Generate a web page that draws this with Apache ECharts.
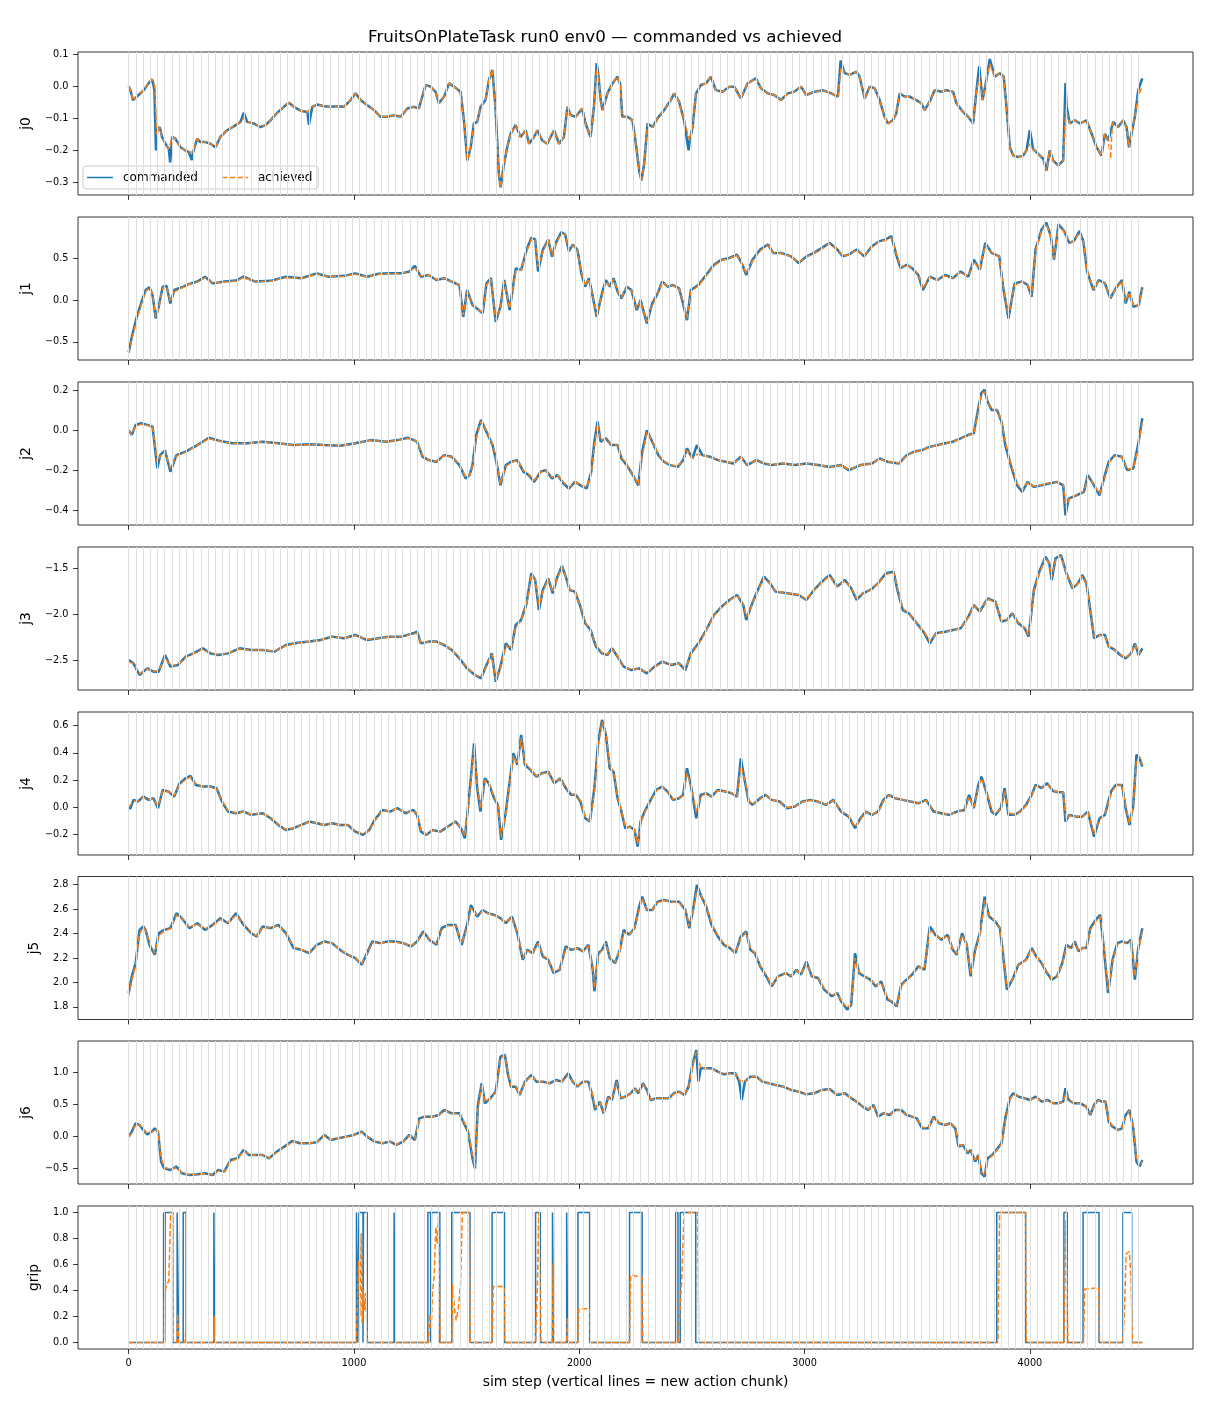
<!DOCTYPE html>
<html><head><meta charset="utf-8">
<script src="https://cdn.jsdelivr.net/npm/echarts@6/dist/echarts.min.js"></script>
<style>html,body{margin:0;padding:0;background:#fff}#c{width:1210px;height:1408px}</style>
</head><body><div id="c"></div>
<script>
const chunkStarts = [0,32,64,96,128,160,192,224,256,288,320,352,384,416,448,480,512,544,576,608,640,672,704,736,768,800,832,864,896,928,960,992,1024,1056,1088,1120,1152,1184,1216,1248,1280,1312,1344,1376,1408,1440,1472,1504,1536,1568,1600,1632,1664,1696,1728,1760,1792,1824,1856,1888,1920,1952,1984,2016,2048,2080,2112,2144,2176,2208,2240,2272,2304,2336,2368,2400,2432,2464,2496,2528,2560,2592,2624,2656,2688,2720,2752,2784,2816,2848,2880,2912,2944,2976,3008,3040,3072,3104,3136,3168,3200,3232,3264,3296,3328,3360,3392,3424,3456,3488,3520,3552,3584,3616,3648,3680,3712,3744,3776,3808,3840,3872,3904,3936,3968,4000,4032,4064,4096,4128,4160,4192,4224,4256,4288,4320,4352,4384,4416,4448,4480];
const xTicks = [0,1000,2000,3000,4000];
const panelNames = ['j0','j1','j2','j3','j4','j5','j6','grip'];
const yTicks = [[-0.3,-0.2,-0.1,0,0.1],[-0.5,0,0.5],[-0.4,-0.2,0,0.2],[-2.5,-2.0,-1.5],[-0.2,0,0.2,0.4,0.6],[1.8,2.0,2.2,2.4,2.6,2.8],[-0.5,0,0.5,1.0],[0,0.2,0.4,0.6,0.8,1.0]];
const yRanges = [[-0.339,0.107],[-0.718,0.995],[-0.4735,0.2415],[-2.826,-1.272],[-0.351,0.70],[1.697,2.867],[-0.745,1.489],[-0.05,1.05]];

const j0Cmd = [[0,0.0],[7,-0.01],[19,-0.043],[27,-0.048],[44,-0.027],[67,-0.012],[89,0.01],[104,0.022],[108,0.028],[114,-0.01],[121,-0.2],[126,-0.137],[138,-0.127],[148,-0.158],[163,-0.179],[178,-0.195],[184,-0.237],[193,-0.158],[207,-0.163],[230,-0.19],[252,-0.2],[267,-0.205],[280,-0.23],[286,-0.205],[304,-0.163],[318,-0.174],[341,-0.174],[363,-0.179],[385,-0.19],[407,-0.158],[437,-0.137],[467,-0.125],[496,-0.111],[511,-0.082],[526,-0.111],[555,-0.116],[585,-0.127],[607,-0.121],[629,-0.106],[659,-0.083],[689,-0.064],[711,-0.051],[733,-0.064],[763,-0.076],[793,-0.08],[800,-0.12],[815,-0.064],[837,-0.057],[866,-0.062],[896,-0.064],[926,-0.062],[955,-0.064],[985,-0.043],[1007,-0.022],[1029,-0.043],[1059,-0.059],[1089,-0.074],[1118,-0.095],[1148,-0.095],[1178,-0.09],[1207,-0.095],[1237,-0.069],[1266,-0.064],[1288,-0.069],[1318,0.004],[1340,-0.001],[1362,-0.017],[1377,-0.053],[1400,-0.032],[1422,0.009],[1444,-0.001],[1473,-0.017],[1488,-0.106],[1503,-0.231],[1518,-0.19],[1532,-0.116],[1547,-0.111],[1562,-0.064],[1584,-0.043],[1599,0.02],[1614,0.051],[1628,-0.064],[1643,-0.273],[1651,-0.315],[1666,-0.242],[1680,-0.19],[1695,-0.148],[1717,-0.121],[1740,-0.158],[1762,-0.137],[1777,-0.179],[1799,-0.158],[1814,-0.137],[1836,-0.169],[1858,-0.179],[1888,-0.137],[1910,-0.179],[1932,-0.158],[1947,-0.064],[1962,-0.09],[1984,-0.095],[2013,-0.069],[2028,-0.116],[2050,-0.158],[2065,-0.064],[2077,0.072],[2084,0.04],[2095,-0.043],[2103,-0.074],[2125,-0.022],[2147,0.009],[2169,0.03],[2181,0.009],[2191,-0.095],[2214,-0.095],[2236,-0.106],[2251,-0.179],[2266,-0.263],[2276,-0.294],[2288,-0.242],[2303,-0.116],[2325,-0.127],[2347,-0.1],[2377,-0.074],[2406,-0.043],[2421,-0.022],[2443,-0.048],[2465,-0.106],[2485,-0.2],[2490,-0.169],[2503,-0.127],[2518,-0.022],[2540,0.004],[2562,0.009],[2584,0.03],[2606,-0.012],[2636,-0.017],[2666,-0.001],[2688,-0.001],[2717,-0.038],[2747,0.009],[2784,0.025],[2806,-0.006],[2836,-0.022],[2865,-0.027],[2895,-0.043],[2925,-0.022],[2954,-0.017],[2984,-0.001],[3007,-0.027],[3044,-0.017],[3081,-0.012],[3118,-0.022],[3148,-0.032],[3160,0.08],[3178,0.041],[3200,0.036],[3230,0.046],[3244,0.03],[3267,-0.038],[3289,-0.001],[3311,-0.006],[3333,-0.043],[3355,-0.095],[3370,-0.116],[3392,-0.106],[3407,-0.085],[3422,-0.022],[3444,-0.032],[3466,-0.032],[3496,-0.043],[3518,-0.053],[3533,-0.074],[3555,-0.048],[3577,-0.012],[3607,-0.017],[3629,-0.012],[3659,-0.017],[3674,-0.053],[3703,-0.08],[3726,-0.095],[3748,-0.116],[3763,-0.012],[3775,0.062],[3790,-0.043],[3807,0.02],[3822,0.085],[3844,0.03],[3866,0.041],[3884,0.03],[3896,-0.064],[3911,-0.19],[3926,-0.216],[3948,-0.221],[3970,-0.216],[3985,-0.2],[4000,-0.137],[4014,-0.195],[4037,-0.211],[4059,-0.226],[4074,-0.263],[4088,-0.2],[4103,-0.231],[4126,-0.247],[4148,-0.231],[4158,0.01],[4163,-0.064],[4177,-0.116],[4200,-0.106],[4222,-0.116],[4251,-0.106],[4274,-0.148],[4296,-0.19],[4318,-0.216],[4333,-0.148],[4348,-0.169],[4370,-0.111],[4392,-0.127],[4414,-0.106],[4429,-0.127],[4440,-0.19],[4451,-0.148],[4466,-0.095],[4481,-0.012],[4499,0.025]];
const j0Ach = [[0,0.0],[7,-0.01],[19,-0.043],[27,-0.048],[44,-0.027],[67,-0.012],[89,0.01],[104,0.022],[108,0.025],[116,0.0],[124,-0.15],[130,-0.14],[138,-0.127],[148,-0.158],[163,-0.179],[178,-0.195],[193,-0.158],[207,-0.163],[230,-0.19],[252,-0.2],[267,-0.205],[286,-0.205],[304,-0.163],[318,-0.174],[341,-0.174],[363,-0.179],[385,-0.19],[407,-0.158],[437,-0.137],[467,-0.125],[496,-0.111],[511,-0.1],[526,-0.111],[555,-0.116],[585,-0.127],[607,-0.121],[629,-0.106],[659,-0.083],[689,-0.064],[711,-0.051],[733,-0.064],[763,-0.076],[793,-0.08],[815,-0.064],[837,-0.057],[866,-0.062],[896,-0.064],[926,-0.062],[955,-0.064],[985,-0.043],[1007,-0.022],[1029,-0.043],[1059,-0.059],[1089,-0.074],[1118,-0.095],[1148,-0.095],[1178,-0.09],[1207,-0.095],[1237,-0.069],[1266,-0.064],[1288,-0.069],[1318,0.004],[1340,-0.001],[1362,-0.017],[1377,-0.053],[1400,-0.032],[1422,0.009],[1444,-0.001],[1473,-0.017],[1488,-0.106],[1503,-0.231],[1518,-0.19],[1532,-0.116],[1547,-0.111],[1562,-0.064],[1584,-0.043],[1599,0.02],[1614,0.051],[1628,-0.064],[1643,-0.273],[1651,-0.315],[1666,-0.242],[1680,-0.19],[1695,-0.148],[1717,-0.121],[1740,-0.158],[1762,-0.137],[1777,-0.179],[1799,-0.158],[1814,-0.137],[1836,-0.169],[1858,-0.179],[1888,-0.137],[1910,-0.179],[1932,-0.158],[1947,-0.064],[1962,-0.09],[1984,-0.095],[2013,-0.069],[2028,-0.116],[2050,-0.158],[2065,-0.064],[2077,0.055],[2084,0.04],[2095,-0.043],[2103,-0.074],[2125,-0.022],[2147,0.009],[2169,0.03],[2181,0.009],[2191,-0.095],[2214,-0.095],[2236,-0.106],[2251,-0.179],[2266,-0.263],[2276,-0.294],[2288,-0.242],[2303,-0.116],[2325,-0.127],[2347,-0.1],[2377,-0.074],[2406,-0.043],[2421,-0.022],[2443,-0.048],[2465,-0.106],[2490,-0.169],[2503,-0.127],[2518,-0.022],[2540,0.004],[2562,0.009],[2584,0.03],[2606,-0.012],[2636,-0.017],[2666,-0.001],[2688,-0.001],[2717,-0.038],[2747,0.009],[2784,0.025],[2806,-0.006],[2836,-0.022],[2865,-0.027],[2895,-0.043],[2925,-0.022],[2954,-0.017],[2984,-0.001],[3007,-0.027],[3044,-0.017],[3081,-0.012],[3118,-0.022],[3148,-0.032],[3162,0.06],[3178,0.041],[3200,0.036],[3230,0.046],[3244,0.03],[3267,-0.038],[3289,-0.001],[3311,-0.006],[3333,-0.043],[3355,-0.095],[3370,-0.116],[3392,-0.106],[3407,-0.085],[3422,-0.022],[3444,-0.032],[3466,-0.032],[3496,-0.043],[3518,-0.053],[3533,-0.074],[3555,-0.048],[3577,-0.012],[3607,-0.017],[3629,-0.012],[3659,-0.017],[3674,-0.053],[3703,-0.08],[3726,-0.095],[3748,-0.116],[3763,-0.012],[3777,0.03],[3790,-0.043],[3807,0.02],[3822,0.07],[3844,0.03],[3866,0.041],[3884,0.03],[3896,-0.064],[3911,-0.19],[3926,-0.216],[3948,-0.221],[3970,-0.216],[3985,-0.2],[4000,-0.18],[4014,-0.195],[4037,-0.211],[4059,-0.226],[4074,-0.263],[4088,-0.2],[4103,-0.231],[4126,-0.247],[4148,-0.231],[4160,-0.06],[4166,-0.09],[4177,-0.116],[4200,-0.106],[4222,-0.116],[4251,-0.106],[4274,-0.148],[4296,-0.19],[4318,-0.216],[4333,-0.148],[4348,-0.169],[4358,-0.226],[4366,-0.12],[4370,-0.111],[4392,-0.127],[4414,-0.106],[4429,-0.127],[4440,-0.19],[4451,-0.148],[4466,-0.095],[4481,-0.03],[4499,0.0]];

const j1Cmd = [[0,-0.625],[14,-0.44],[34,-0.22],[55,-0.04],[75,0.12],[92,0.153],[106,0.06],[120,-0.22],[133,-0.08],[151,0.16],[168,0.17],[185,-0.04],[202,0.12],[236,0.153],[270,0.194],[305,0.222],[339,0.28],[373,0.2],[424,0.222],[476,0.234],[510,0.28],[561,0.222],[630,0.23],[698,0.28],[767,0.262],[835,0.32],[886,0.28],[955,0.29],[1006,0.32],[1058,0.28],[1109,0.315],[1160,0.32],[1211,0.32],[1246,0.343],[1270,0.41],[1297,0.28],[1331,0.3],[1366,0.24],[1400,0.262],[1434,0.222],[1468,0.18],[1485,-0.2],[1502,0.12],[1526,-0.06],[1554,-0.12],[1571,-0.16],[1588,0.2],[1608,0.262],[1629,-0.26],[1650,-0.08],[1667,0.24],[1691,-0.12],[1708,0.2],[1718,0.38],[1742,0.36],[1766,0.6],[1787,0.746],[1804,0.726],[1817,0.343],[1838,0.6],[1862,0.726],[1879,0.52],[1896,0.685],[1920,0.815],[1937,0.786],[1954,0.585],[1971,0.665],[1992,0.6],[2009,0.32],[2026,0.16],[2043,0.262],[2060,0.04],[2077,-0.2],[2101,0.08],[2118,0.24],[2135,0.16],[2152,0.262],[2170,0.1],[2187,0.02],[2211,0.16],[2231,0.12],[2255,-0.12],[2272,0.0],[2300,-0.28],[2324,-0.04],[2348,0.08],[2368,0.222],[2392,0.16],[2416,0.18],[2443,0.14],[2464,-0.08],[2478,-0.24],[2495,0.12],[2529,0.18],[2563,0.3],[2598,0.423],[2632,0.484],[2666,0.504],[2700,0.544],[2724,0.423],[2741,0.3],[2769,0.484],[2803,0.605],[2837,0.665],[2861,0.565],[2895,0.565],[2940,0.524],[2974,0.444],[3008,0.524],[3042,0.565],[3077,0.625],[3111,0.685],[3145,0.605],[3169,0.524],[3196,0.544],[3231,0.605],[3265,0.524],[3299,0.645],[3333,0.706],[3361,0.726],[3385,0.766],[3409,0.524],[3426,0.383],[3453,0.423],[3477,0.383],[3505,0.3],[3525,0.12],[3556,0.28],[3590,0.24],[3624,0.3],[3658,0.262],[3693,0.343],[3727,0.28],[3751,0.484],[3778,0.363],[3802,0.685],[3830,0.565],[3864,0.524],[3881,0.16],[3905,-0.22],[3932,0.2],[3966,0.222],[3990,0.18],[4008,0.04],[4025,0.605],[4052,0.847],[4073,0.927],[4093,0.766],[4107,0.484],[4127,0.907],[4152,0.827],[4175,0.685],[4195,0.706],[4220,0.827],[4237,0.706],[4254,0.343],[4282,0.12],[4306,0.24],[4333,0.2],[4357,0.02],[4381,0.14],[4409,0.24],[4425,-0.04],[4442,0.1],[4459,-0.08],[4483,-0.06],[4499,0.153]];
const j1Ach = [[0,-0.64],[14,-0.47],[34,-0.25],[55,-0.06],[75,0.1],[92,0.145],[106,0.07],[120,-0.2],[133,-0.1],[151,0.14],[168,0.165],[185,-0.02],[202,0.1],[236,0.145],[270,0.19],[305,0.215],[339,0.27],[373,0.205],[424,0.215],[476,0.228],[510,0.27],[561,0.222],[630,0.225],[698,0.27],[767,0.262],[835,0.31],[886,0.28],[955,0.285],[1006,0.31],[1058,0.28],[1109,0.31],[1160,0.315],[1211,0.32],[1246,0.34],[1270,0.39],[1297,0.29],[1331,0.3],[1366,0.245],[1400,0.26],[1434,0.225],[1468,0.18],[1485,-0.18],[1502,0.1],[1526,-0.05],[1554,-0.12],[1571,-0.15],[1588,0.18],[1608,0.25],[1629,-0.24],[1650,-0.09],[1667,0.22],[1691,-0.1],[1708,0.18],[1718,0.36],[1742,0.36],[1766,0.58],[1787,0.73],[1804,0.72],[1817,0.4],[1838,0.58],[1862,0.72],[1879,0.54],[1896,0.67],[1920,0.8],[1937,0.78],[1954,0.6],[1971,0.66],[1992,0.6],[2009,0.34],[2026,0.17],[2043,0.25],[2060,0.05],[2077,-0.18],[2101,0.06],[2118,0.22],[2135,0.17],[2152,0.25],[2170,0.11],[2187,0.03],[2211,0.15],[2231,0.12],[2255,-0.1],[2272,-0.01],[2300,-0.26],[2324,-0.06],[2348,0.07],[2368,0.21],[2392,0.165],[2416,0.175],[2443,0.14],[2464,-0.06],[2478,-0.22],[2495,0.1],[2529,0.17],[2563,0.29],[2598,0.41],[2632,0.475],[2666,0.5],[2700,0.535],[2724,0.43],[2741,0.32],[2769,0.47],[2803,0.59],[2837,0.655],[2861,0.57],[2895,0.56],[2940,0.52],[2974,0.45],[3008,0.515],[3042,0.56],[3077,0.615],[3111,0.675],[3145,0.61],[3169,0.53],[3196,0.54],[3231,0.6],[3265,0.53],[3299,0.635],[3333,0.7],[3361,0.72],[3385,0.75],[3409,0.54],[3426,0.4],[3453,0.42],[3477,0.385],[3505,0.31],[3525,0.14],[3556,0.27],[3590,0.24],[3624,0.29],[3658,0.265],[3693,0.335],[3727,0.285],[3751,0.46],[3778,0.37],[3802,0.66],[3830,0.57],[3864,0.52],[3881,0.18],[3905,-0.2],[3932,0.18],[3966,0.22],[3990,0.18],[4008,0.06],[4025,0.58],[4052,0.83],[4073,0.91],[4093,0.77],[4107,0.5],[4127,0.89],[4152,0.82],[4175,0.69],[4195,0.7],[4220,0.81],[4237,0.71],[4254,0.36],[4282,0.13],[4306,0.23],[4333,0.2],[4357,0.03],[4381,0.13],[4409,0.23],[4425,-0.02],[4442,0.09],[4459,-0.07],[4483,-0.06],[4499,0.13]];

const j2Cmd = [[0,0.0],[14,-0.023],[31,0.027],[55,0.035],[82,0.027],[106,0.018],[127,-0.19],[140,-0.124],[161,-0.1],[185,-0.207],[212,-0.124],[253,-0.107],[305,-0.074],[356,-0.037],[407,-0.054],[459,-0.065],[527,-0.065],[595,-0.057],[664,-0.065],[732,-0.074],[801,-0.07],[869,-0.074],[938,-0.077],[1006,-0.065],[1074,-0.049],[1143,-0.057],[1194,-0.049],[1239,-0.037],[1280,-0.057],[1304,-0.132],[1331,-0.149],[1366,-0.157],[1400,-0.124],[1434,-0.132],[1468,-0.174],[1496,-0.241],[1513,-0.224],[1526,-0.174],[1543,-0.023],[1564,0.052],[1588,-0.007],[1615,-0.074],[1632,-0.157],[1650,-0.275],[1674,-0.174],[1697,-0.157],[1725,-0.149],[1752,-0.207],[1776,-0.224],[1800,-0.258],[1828,-0.207],[1851,-0.199],[1879,-0.241],[1903,-0.224],[1930,-0.266],[1954,-0.291],[1981,-0.258],[2005,-0.275],[2033,-0.291],[2053,-0.207],[2067,-0.057],[2081,0.044],[2095,-0.057],[2118,-0.04],[2142,-0.074],[2170,-0.074],[2187,-0.141],[2211,-0.174],[2238,-0.224],[2262,-0.275],[2279,-0.107],[2300,0.0],[2324,-0.057],[2351,-0.124],[2375,-0.157],[2403,-0.174],[2437,-0.183],[2461,-0.149],[2478,-0.09],[2502,-0.141],[2522,-0.074],[2546,-0.124],[2580,-0.132],[2615,-0.149],[2649,-0.157],[2683,-0.166],[2717,-0.132],[2745,-0.174],[2786,-0.149],[2820,-0.166],[2854,-0.174],[2905,-0.166],[2957,-0.174],[3008,-0.166],[3060,-0.174],[3111,-0.183],[3162,-0.174],[3196,-0.199],[3248,-0.174],[3299,-0.166],[3333,-0.141],[3368,-0.157],[3419,-0.166],[3453,-0.124],[3487,-0.107],[3522,-0.099],[3556,-0.082],[3590,-0.074],[3624,-0.065],[3658,-0.057],[3693,-0.04],[3727,-0.023],[3751,-0.015],[3771,0.11],[3785,0.186],[3799,0.203],[3812,0.144],[3830,0.102],[3854,0.102],[3874,0.044],[3891,-0.074],[3915,-0.174],[3943,-0.275],[3966,-0.308],[3990,-0.258],[4018,-0.283],[4052,-0.275],[4086,-0.266],[4120,-0.258],[4148,-0.275],[4158,-0.425],[4172,-0.342],[4206,-0.325],[4240,-0.308],[4257,-0.224],[4285,-0.275],[4309,-0.325],[4333,-0.224],[4350,-0.157],[4377,-0.124],[4409,-0.132],[4432,-0.199],[4459,-0.191],[4480,-0.074],[4499,0.06]];
const j2Ach = [[0,0.0],[14,-0.02],[31,0.02],[55,0.03],[82,0.025],[106,0.018],[127,-0.16],[140,-0.13],[161,-0.105],[185,-0.19],[212,-0.13],[253,-0.11],[305,-0.075],[356,-0.042],[407,-0.055],[459,-0.066],[527,-0.066],[595,-0.058],[664,-0.066],[732,-0.074],[801,-0.072],[869,-0.075],[938,-0.077],[1006,-0.066],[1074,-0.05],[1143,-0.057],[1194,-0.05],[1239,-0.04],[1280,-0.055],[1304,-0.125],[1331,-0.148],[1366,-0.155],[1400,-0.127],[1434,-0.132],[1468,-0.17],[1496,-0.235],[1513,-0.225],[1526,-0.18],[1543,-0.04],[1564,0.045],[1588,0.0],[1615,-0.07],[1632,-0.15],[1650,-0.27],[1674,-0.18],[1697,-0.16],[1725,-0.15],[1752,-0.2],[1776,-0.22],[1800,-0.25],[1828,-0.21],[1851,-0.2],[1879,-0.235],[1903,-0.225],[1930,-0.26],[1954,-0.285],[1981,-0.26],[2005,-0.272],[2033,-0.285],[2053,-0.22],[2067,-0.08],[2081,0.03],[2095,-0.05],[2118,-0.045],[2142,-0.072],[2170,-0.075],[2187,-0.135],[2211,-0.17],[2238,-0.22],[2262,-0.27],[2279,-0.13],[2300,-0.01],[2324,-0.055],[2351,-0.12],[2375,-0.155],[2403,-0.172],[2437,-0.18],[2461,-0.15],[2478,-0.1],[2502,-0.14],[2522,-0.12],[2546,-0.125],[2580,-0.132],[2615,-0.148],[2649,-0.157],[2683,-0.165],[2717,-0.135],[2745,-0.172],[2786,-0.15],[2820,-0.165],[2854,-0.172],[2905,-0.166],[2957,-0.173],[3008,-0.166],[3060,-0.174],[3111,-0.182],[3162,-0.175],[3196,-0.195],[3248,-0.175],[3299,-0.166],[3333,-0.143],[3368,-0.156],[3419,-0.164],[3453,-0.126],[3487,-0.108],[3522,-0.1],[3556,-0.083],[3590,-0.075],[3624,-0.066],[3658,-0.058],[3693,-0.042],[3727,-0.025],[3751,-0.02],[3771,0.1],[3785,0.18],[3799,0.195],[3812,0.15],[3830,0.105],[3854,0.1],[3874,0.05],[3891,-0.06],[3915,-0.165],[3943,-0.265],[3966,-0.3],[3990,-0.262],[4018,-0.28],[4052,-0.273],[4086,-0.265],[4120,-0.26],[4148,-0.27],[4160,-0.39],[4172,-0.345],[4206,-0.323],[4240,-0.305],[4257,-0.235],[4285,-0.27],[4309,-0.318],[4333,-0.235],[4350,-0.165],[4377,-0.128],[4409,-0.132],[4432,-0.195],[4459,-0.19],[4480,-0.09],[4499,0.04]];

const j3Cmd = [[0,-2.5],[21,-2.536],[48,-2.663],[82,-2.591],[110,-2.627],[133,-2.627],[161,-2.446],[185,-2.572],[219,-2.554],[253,-2.464],[287,-2.428],[329,-2.373],[363,-2.428],[397,-2.446],[441,-2.428],[493,-2.373],[544,-2.391],[595,-2.391],[647,-2.409],[698,-2.337],[750,-2.312],[801,-2.3],[852,-2.283],[903,-2.246],[955,-2.264],[1006,-2.228],[1058,-2.283],[1109,-2.264],[1160,-2.246],[1211,-2.246],[1263,-2.21],[1280,-2.192],[1297,-2.319],[1331,-2.3],[1366,-2.3],[1400,-2.337],[1434,-2.391],[1468,-2.482],[1502,-2.591],[1537,-2.663],[1564,-2.699],[1588,-2.554],[1612,-2.428],[1629,-2.736],[1650,-2.572],[1674,-2.319],[1697,-2.391],[1718,-2.12],[1742,-2.065],[1766,-1.884],[1787,-1.558],[1804,-1.63],[1821,-1.957],[1838,-1.739],[1862,-1.612],[1882,-1.775],[1903,-1.594],[1923,-1.478],[1940,-1.594],[1957,-1.739],[1981,-1.757],[2005,-1.92],[2026,-2.101],[2050,-2.174],[2074,-2.355],[2101,-2.428],[2125,-2.446],[2145,-2.373],[2170,-2.464],[2197,-2.572],[2231,-2.609],[2266,-2.591],[2300,-2.645],[2334,-2.572],[2368,-2.518],[2409,-2.554],[2443,-2.536],[2471,-2.609],[2495,-2.428],[2529,-2.319],[2563,-2.174],[2598,-2.011],[2632,-1.92],[2666,-1.848],[2700,-1.793],[2728,-1.902],[2741,-2.065],[2762,-1.92],[2786,-1.775],[2820,-1.594],[2847,-1.667],[2871,-1.757],[2923,-1.775],[2974,-1.793],[3008,-1.848],[3042,-1.739],[3077,-1.649],[3111,-1.576],[3145,-1.703],[3179,-1.63],[3207,-1.721],[3231,-1.848],[3258,-1.775],[3292,-1.739],[3326,-1.667],[3361,-1.558],[3395,-1.54],[3412,-1.739],[3436,-1.957],[3463,-1.993],[3498,-2.101],[3532,-2.21],[3556,-2.319],[3583,-2.21],[3624,-2.192],[3658,-2.174],[3693,-2.156],[3727,-2.029],[3751,-1.902],[3778,-1.975],[3812,-1.83],[3847,-1.866],[3874,-2.083],[3898,-2.065],[3922,-1.993],[3949,-2.101],[3977,-2.156],[3994,-2.246],[4018,-1.739],[4042,-1.54],[4069,-1.377],[4086,-1.449],[4097,-1.63],[4114,-1.395],[4138,-1.359],[4162,-1.558],[4189,-1.721],[4213,-1.667],[4233,-1.576],[4251,-1.667],[4268,-1.957],[4285,-2.264],[4309,-2.228],[4333,-2.228],[4350,-2.355],[4377,-2.391],[4401,-2.446],[4425,-2.482],[4449,-2.428],[4466,-2.319],[4483,-2.446],[4499,-2.373]];
const j3Ach = [[0,-2.52],[21,-2.54],[48,-2.65],[82,-2.6],[110,-2.62],[133,-2.62],[161,-2.47],[185,-2.56],[219,-2.55],[253,-2.47],[287,-2.43],[329,-2.385],[363,-2.42],[397,-2.44],[441,-2.425],[493,-2.38],[544,-2.39],[595,-2.39],[647,-2.405],[698,-2.345],[750,-2.315],[801,-2.3],[852,-2.285],[903,-2.25],[955,-2.26],[1006,-2.235],[1058,-2.275],[1109,-2.265],[1160,-2.25],[1211,-2.245],[1263,-2.215],[1280,-2.21],[1297,-2.31],[1331,-2.3],[1366,-2.305],[1400,-2.335],[1434,-2.39],[1468,-2.475],[1502,-2.585],[1537,-2.66],[1564,-2.69],[1588,-2.565],[1612,-2.44],[1629,-2.72],[1650,-2.59],[1674,-2.34],[1697,-2.38],[1718,-2.14],[1742,-2.07],[1766,-1.9],[1787,-1.58],[1804,-1.63],[1821,-1.9],[1838,-1.76],[1862,-1.62],[1882,-1.76],[1903,-1.61],[1923,-1.49],[1940,-1.59],[1957,-1.73],[1981,-1.76],[2005,-1.91],[2026,-2.09],[2050,-2.17],[2074,-2.34],[2101,-2.42],[2125,-2.44],[2145,-2.38],[2170,-2.46],[2197,-2.565],[2231,-2.605],[2266,-2.595],[2300,-2.635],[2334,-2.575],[2368,-2.525],[2409,-2.55],[2443,-2.54],[2471,-2.6],[2495,-2.44],[2529,-2.33],[2563,-2.18],[2598,-2.02],[2632,-1.93],[2666,-1.855],[2700,-1.8],[2728,-1.89],[2741,-2.03],[2762,-1.93],[2786,-1.785],[2820,-1.61],[2847,-1.67],[2871,-1.75],[2923,-1.775],[2974,-1.79],[3008,-1.84],[3042,-1.745],[3077,-1.655],[3111,-1.59],[3145,-1.7],[3179,-1.64],[3207,-1.72],[3231,-1.83],[3258,-1.775],[3292,-1.74],[3326,-1.67],[3361,-1.57],[3395,-1.55],[3412,-1.72],[3436,-1.94],[3463,-1.99],[3498,-2.1],[3532,-2.2],[3556,-2.3],[3583,-2.215],[3624,-2.195],[3658,-2.175],[3693,-2.155],[3727,-2.035],[3751,-1.91],[3778,-1.97],[3812,-1.84],[3847,-1.87],[3874,-2.07],[3898,-2.065],[3922,-2.0],[3949,-2.095],[3977,-2.15],[3994,-2.23],[4018,-1.76],[4042,-1.56],[4069,-1.39],[4086,-1.45],[4097,-1.6],[4114,-1.41],[4138,-1.37],[4162,-1.55],[4189,-1.71],[4213,-1.67],[4233,-1.59],[4251,-1.67],[4268,-1.94],[4285,-2.25],[4309,-2.23],[4333,-2.23],[4350,-2.345],[4377,-2.39],[4401,-2.44],[4425,-2.475],[4449,-2.43],[4466,-2.33],[4483,-2.43],[4499,-2.385]];

const j4Cmd = [[0,0.005],[7,-0.012],[21,0.054],[41,0.042],[65,0.078],[89,0.054],[110,0.066],[130,-0.007],[151,0.127],[178,0.115],[202,0.078],[226,0.176],[253,0.213],[274,0.23],[298,0.164],[329,0.152],[363,0.152],[390,0.14],[414,0.042],[441,-0.032],[476,-0.044],[510,-0.032],[544,-0.056],[595,-0.044],[630,-0.081],[664,-0.13],[698,-0.167],[732,-0.154],[767,-0.13],[801,-0.105],[835,-0.118],[869,-0.13],[903,-0.118],[938,-0.13],[972,-0.13],[1006,-0.179],[1040,-0.203],[1068,-0.167],[1092,-0.093],[1126,-0.02],[1160,-0.032],[1194,-0.007],[1229,-0.044],[1263,-0.02],[1280,-0.056],[1297,-0.179],[1321,-0.203],[1349,-0.167],[1383,-0.179],[1417,-0.142],[1451,-0.105],[1475,-0.154],[1492,-0.228],[1513,0.115],[1533,0.47],[1547,0.14],[1561,-0.032],[1581,0.213],[1598,0.176],[1622,0.066],[1639,0.017],[1653,-0.24],[1674,-0.032],[1691,0.189],[1708,0.397],[1725,0.311],[1742,0.532],[1759,0.311],[1783,0.275],[1810,0.225],[1834,0.25],[1862,0.262],[1889,0.176],[1916,0.213],[1940,0.14],[1964,0.091],[1985,0.091],[2005,0.042],[2026,-0.081],[2047,-0.105],[2067,0.14],[2084,0.483],[2101,0.642],[2118,0.532],[2135,0.287],[2152,0.262],[2170,0.066],[2187,-0.032],[2204,-0.154],[2224,-0.142],[2245,-0.167],[2259,-0.289],[2272,-0.105],[2290,-0.032],[2313,0.042],[2341,0.127],[2368,0.152],[2392,0.115],[2416,0.054],[2443,0.066],[2461,0.091],[2478,0.287],[2495,0.164],[2519,-0.081],[2539,0.091],[2563,0.103],[2587,0.078],[2615,0.127],[2649,0.115],[2676,0.103],[2700,0.078],[2717,0.36],[2735,0.189],[2752,0.042],[2769,0.017],[2803,0.066],[2827,0.091],[2854,0.054],[2889,0.042],[2923,-0.007],[2957,0.005],[2991,0.042],[3025,0.054],[3060,0.042],[3094,0.017],[3128,0.054],[3162,-0.032],[3196,-0.069],[3224,-0.154],[3248,-0.081],[3272,-0.032],[3299,-0.056],[3326,-0.032],[3350,0.054],[3374,0.091],[3402,0.066],[3436,0.054],[3470,0.042],[3505,0.029],[3539,0.054],[3573,-0.032],[3607,-0.044],[3641,-0.056],[3676,-0.032],[3710,-0.02],[3730,0.091],[3751,-0.007],[3771,0.164],[3785,0.225],[3806,0.115],[3830,-0.032],[3847,-0.056],[3871,-0.007],[3888,0.14],[3905,-0.056],[3932,-0.056],[3956,-0.032],[3983,0.017],[4008,0.091],[4025,0.164],[4052,0.14],[4076,0.176],[4103,0.12],[4127,0.11],[4148,0.11],[4158,-0.105],[4175,-0.056],[4206,-0.069],[4233,-0.069],[4257,-0.032],[4285,-0.216],[4309,-0.081],[4333,-0.056],[4360,0.115],[4381,0.164],[4409,0.164],[4425,-0.007],[4442,-0.13],[4459,0.017],[4473,0.385],[4487,0.36],[4499,0.299]];
const j4Ach = [[0,0.0],[7,-0.005],[21,0.045],[41,0.045],[65,0.07],[89,0.058],[110,0.06],[130,0.01],[151,0.115],[178,0.115],[202,0.085],[226,0.165],[253,0.205],[274,0.222],[298,0.17],[329,0.152],[363,0.15],[390,0.135],[414,0.05],[441,-0.025],[476,-0.042],[510,-0.035],[544,-0.052],[595,-0.046],[630,-0.078],[664,-0.125],[698,-0.162],[732,-0.155],[767,-0.132],[801,-0.108],[835,-0.116],[869,-0.128],[903,-0.12],[938,-0.128],[972,-0.132],[1006,-0.172],[1040,-0.198],[1068,-0.172],[1092,-0.1],[1126,-0.025],[1160,-0.03],[1194,-0.01],[1229,-0.04],[1263,-0.025],[1280,-0.05],[1297,-0.17],[1321,-0.198],[1349,-0.17],[1383,-0.175],[1417,-0.145],[1451,-0.11],[1475,-0.15],[1492,-0.21],[1513,0.09],[1533,0.44],[1547,0.17],[1561,-0.01],[1581,0.2],[1598,0.18],[1622,0.075],[1639,0.02],[1653,-0.22],[1674,-0.05],[1691,0.17],[1708,0.38],[1725,0.32],[1742,0.51],[1759,0.33],[1783,0.28],[1810,0.23],[1834,0.245],[1862,0.26],[1889,0.18],[1916,0.21],[1940,0.145],[1964,0.095],[1985,0.09],[2005,0.05],[2026,-0.07],[2047,-0.1],[2067,0.11],[2084,0.45],[2101,0.63],[2118,0.55],[2135,0.3],[2152,0.265],[2170,0.08],[2187,-0.02],[2204,-0.145],[2224,-0.145],[2245,-0.16],[2259,-0.27],[2272,-0.12],[2290,-0.04],[2313,0.035],[2341,0.12],[2368,0.15],[2392,0.118],[2416,0.06],[2443,0.064],[2461,0.085],[2478,0.25],[2495,0.175],[2519,-0.04],[2539,0.08],[2563,0.1],[2587,0.08],[2615,0.122],[2649,0.115],[2676,0.105],[2700,0.08],[2717,0.3],[2735,0.2],[2752,0.055],[2769,0.02],[2803,0.06],[2827,0.088],[2854,0.056],[2889,0.042],[2923,-0.002],[2957,0.005],[2991,0.04],[3025,0.052],[3060,0.044],[3094,0.02],[3128,0.05],[3162,-0.028],[3196,-0.065],[3224,-0.145],[3248,-0.09],[3272,-0.035],[3299,-0.052],[3326,-0.035],[3350,0.045],[3374,0.088],[3402,0.068],[3436,0.055],[3470,0.043],[3505,0.03],[3539,0.05],[3573,-0.025],[3607,-0.042],[3641,-0.054],[3676,-0.035],[3710,-0.02],[3730,0.075],[3751,0.0],[3771,0.15],[3785,0.21],[3806,0.125],[3830,-0.02],[3847,-0.05],[3871,-0.01],[3888,0.12],[3905,-0.04],[3932,-0.055],[3956,-0.035],[3983,0.012],[4008,0.085],[4025,0.155],[4052,0.142],[4076,0.17],[4103,0.125],[4127,0.112],[4148,0.11],[4160,-0.09],[4175,-0.06],[4206,-0.068],[4233,-0.07],[4257,-0.035],[4285,-0.2],[4309,-0.09],[4333,-0.06],[4360,0.1],[4381,0.16],[4409,0.165],[4425,0.01],[4442,-0.12],[4459,0.0],[4473,0.35],[4487,0.37],[4499,0.31]];

const j5Cmd = [[0,1.914],[14,2.05],[31,2.159],[48,2.43],[65,2.458],[75,2.43],[92,2.308],[116,2.227],[133,2.403],[157,2.43],[185,2.444],[212,2.566],[236,2.526],[270,2.444],[305,2.485],[339,2.43],[373,2.471],[407,2.526],[441,2.485],[476,2.566],[510,2.471],[544,2.403],[568,2.376],[595,2.458],[630,2.444],[664,2.471],[698,2.403],[732,2.281],[767,2.267],[801,2.24],[835,2.308],[869,2.335],[903,2.322],[938,2.267],[972,2.227],[1006,2.199],[1034,2.145],[1058,2.24],[1081,2.335],[1116,2.322],[1150,2.335],[1184,2.335],[1218,2.322],[1253,2.295],[1280,2.335],[1307,2.417],[1335,2.349],[1366,2.308],[1389,2.444],[1417,2.471],[1451,2.471],[1478,2.308],[1502,2.471],[1519,2.634],[1547,2.539],[1571,2.593],[1595,2.566],[1622,2.553],[1650,2.526],[1674,2.485],[1701,2.539],[1725,2.403],[1749,2.186],[1769,2.267],[1793,2.24],[1817,2.335],[1838,2.213],[1862,2.186],[1886,2.077],[1913,2.104],[1940,2.295],[1964,2.267],[1992,2.281],[2016,2.254],[2040,2.308],[2060,2.104],[2067,1.928],[2084,2.24],[2101,2.267],[2118,2.335],[2135,2.199],[2159,2.159],[2180,2.267],[2197,2.43],[2221,2.39],[2245,2.444],[2266,2.621],[2279,2.702],[2300,2.593],[2324,2.593],[2348,2.661],[2375,2.675],[2409,2.661],[2443,2.661],[2471,2.593],[2488,2.444],[2505,2.593],[2522,2.797],[2539,2.716],[2563,2.621],[2587,2.471],[2615,2.376],[2642,2.308],[2669,2.281],[2693,2.24],[2717,2.376],[2741,2.417],[2759,2.267],[2779,2.24],[2803,2.132],[2830,2.05],[2854,1.968],[2882,2.05],[2916,2.077],[2940,2.05],[2964,2.104],[2984,2.064],[3008,2.172],[3032,2.05],[3060,2.036],[3087,1.941],[3121,1.887],[3145,1.914],[3162,1.846],[3189,1.778],[3207,1.819],[3224,2.24],[3241,2.077],[3265,2.05],[3292,2.023],[3316,1.968],[3340,2.009],[3368,1.86],[3385,1.846],[3409,1.805],[3429,1.982],[3453,2.023],[3477,2.064],[3505,2.132],[3532,2.104],[3556,2.458],[3580,2.39],[3607,2.349],[3635,2.39],[3658,2.267],[3676,2.227],[3699,2.403],[3720,2.308],[3737,2.05],[3757,2.267],[3778,2.403],[3799,2.702],[3819,2.539],[3847,2.498],[3867,2.444],[3881,2.227],[3898,1.941],[3922,2.023],[3949,2.145],[3983,2.186],[4008,2.281],[4028,2.213],[4052,2.159],[4076,2.077],[4097,2.023],[4120,2.05],[4144,2.159],[4162,2.308],[4182,2.281],[4199,2.335],[4216,2.254],[4233,2.281],[4251,2.281],[4268,2.444],[4292,2.512],[4312,2.553],[4329,2.267],[4347,1.914],[4367,2.186],[4388,2.322],[4409,2.335],[4432,2.322],[4449,2.349],[4466,2.023],[4480,2.267],[4499,2.444]];
const j5Ach = [[0,1.89],[14,2.02],[31,2.14],[48,2.4],[65,2.45],[75,2.43],[92,2.32],[116,2.24],[133,2.38],[157,2.42],[185,2.44],[212,2.55],[236,2.53],[270,2.45],[305,2.48],[339,2.44],[373,2.465],[407,2.515],[441,2.49],[476,2.55],[510,2.48],[544,2.41],[568,2.38],[595,2.45],[630,2.445],[664,2.465],[698,2.41],[732,2.29],[767,2.27],[801,2.245],[835,2.3],[869,2.33],[903,2.32],[938,2.27],[972,2.23],[1006,2.2],[1034,2.155],[1058,2.23],[1081,2.325],[1116,2.32],[1150,2.33],[1184,2.33],[1218,2.32],[1253,2.3],[1280,2.33],[1307,2.405],[1335,2.355],[1366,2.315],[1389,2.43],[1417,2.465],[1451,2.465],[1478,2.32],[1502,2.45],[1519,2.61],[1547,2.55],[1571,2.585],[1595,2.565],[1622,2.55],[1650,2.525],[1674,2.49],[1701,2.53],[1725,2.41],[1749,2.2],[1769,2.26],[1793,2.24],[1817,2.32],[1838,2.22],[1862,2.19],[1886,2.09],[1913,2.11],[1940,2.28],[1964,2.27],[1992,2.28],[2016,2.255],[2040,2.3],[2060,2.12],[2067,1.96],[2084,2.22],[2101,2.265],[2118,2.32],[2135,2.21],[2159,2.165],[2180,2.26],[2197,2.41],[2221,2.39],[2245,2.44],[2266,2.6],[2279,2.685],[2300,2.6],[2324,2.595],[2348,2.655],[2375,2.67],[2409,2.66],[2443,2.655],[2471,2.595],[2488,2.46],[2505,2.58],[2522,2.76],[2539,2.72],[2563,2.625],[2587,2.48],[2615,2.385],[2642,2.315],[2669,2.285],[2693,2.245],[2717,2.36],[2741,2.41],[2759,2.28],[2779,2.24],[2803,2.14],[2830,2.06],[2854,1.98],[2882,2.045],[2916,2.075],[2940,2.055],[2964,2.1],[2984,2.07],[3008,2.16],[3032,2.06],[3060,2.035],[3087,1.95],[3121,1.895],[3145,1.91],[3162,1.855],[3189,1.79],[3207,1.83],[3224,2.2],[3241,2.09],[3265,2.05],[3292,2.025],[3316,1.975],[3340,2.0],[3368,1.87],[3385,1.85],[3409,1.815],[3429,1.97],[3453,2.02],[3477,2.06],[3505,2.125],[3532,2.11],[3556,2.43],[3580,2.39],[3607,2.35],[3635,2.385],[3658,2.275],[3676,2.235],[3699,2.39],[3720,2.31],[3737,2.07],[3757,2.26],[3778,2.39],[3799,2.67],[3819,2.55],[3847,2.5],[3867,2.445],[3881,2.24],[3898,1.96],[3922,2.02],[3949,2.14],[3983,2.185],[4008,2.27],[4028,2.215],[4052,2.16],[4076,2.085],[4097,2.03],[4120,2.05],[4144,2.15],[4162,2.29],[4182,2.28],[4199,2.325],[4216,2.26],[4233,2.28],[4251,2.28],[4268,2.43],[4292,2.5],[4312,2.54],[4329,2.29],[4347,1.94],[4367,2.17],[4388,2.31],[4409,2.33],[4432,2.32],[4449,2.34],[4466,2.05],[4480,2.25],[4499,2.42]];

const j6Cmd = [[0,-0.005],[14,0.073],[31,0.203],[48,0.177],[65,0.099],[82,0.031],[103,0.073],[116,0.125],[130,0.073],[144,-0.396],[157,-0.5],[185,-0.526],[212,-0.474],[236,-0.578],[270,-0.604],[305,-0.594],[339,-0.578],[373,-0.604],[397,-0.526],[424,-0.552],[452,-0.37],[483,-0.344],[510,-0.214],[534,-0.292],[568,-0.292],[595,-0.292],[623,-0.344],[657,-0.24],[691,-0.161],[726,-0.073],[760,-0.109],[801,-0.109],[835,-0.094],[869,0.021],[897,-0.057],[931,-0.031],[965,-0.005],[1000,0.021],[1034,0.073],[1058,-0.005],[1092,-0.083],[1126,-0.109],[1160,-0.083],[1188,-0.135],[1218,-0.083],[1246,0.021],[1270,-0.057],[1290,0.281],[1314,0.307],[1349,0.307],[1376,0.333],[1400,0.411],[1434,0.359],[1468,0.359],[1485,0.229],[1506,0.073],[1526,-0.344],[1537,-0.5],[1550,0.49],[1567,0.828],[1581,0.516],[1605,0.594],[1629,0.698],[1650,1.245],[1670,1.271],[1684,0.958],[1697,0.776],[1718,0.776],[1735,0.646],[1759,0.854],[1787,0.958],[1810,0.854],[1838,0.854],[1869,0.828],[1896,0.88],[1923,0.854],[1951,0.984],[1971,0.854],[1992,0.776],[2016,0.854],[2040,0.854],[2057,0.646],[2070,0.411],[2091,0.542],[2108,0.359],[2129,0.62],[2145,0.568],[2166,0.88],[2183,0.594],[2204,0.62],[2228,0.672],[2248,0.75],[2262,0.672],[2283,0.828],[2300,0.724],[2317,0.568],[2341,0.594],[2368,0.594],[2396,0.594],[2420,0.672],[2443,0.698],[2467,0.646],[2485,0.776],[2502,1.115],[2519,1.349],[2529,0.854],[2539,1.063],[2563,1.063],[2587,1.063],[2615,1.01],[2642,0.969],[2669,0.984],[2693,0.984],[2710,0.854],[2721,0.568],[2735,0.854],[2759,0.932],[2786,0.932],[2813,0.854],[2841,0.828],[2871,0.802],[2905,0.776],[2940,0.724],[2974,0.698],[3008,0.656],[3042,0.672],[3077,0.724],[3111,0.74],[3145,0.646],[3179,0.672],[3207,0.594],[3231,0.542],[3258,0.464],[3282,0.411],[3306,0.49],[3326,0.307],[3350,0.359],[3378,0.333],[3402,0.411],[3429,0.411],[3453,0.333],[3477,0.307],[3498,0.281],[3522,0.125],[3549,0.125],[3573,0.307],[3597,0.203],[3624,0.177],[3648,0.203],[3669,0.125],[3683,-0.161],[3703,-0.135],[3724,-0.266],[3737,-0.214],[3757,-0.396],[3771,-0.292],[3785,-0.578],[3799,-0.63],[3812,-0.344],[3833,-0.292],[3857,-0.188],[3874,-0.109],[3891,0.281],[3911,0.594],[3926,0.672],[3949,0.62],[3977,0.594],[4001,0.568],[4025,0.62],[4052,0.542],[4080,0.568],[4103,0.516],[4127,0.516],[4148,0.542],[4158,0.75],[4172,0.568],[4196,0.516],[4223,0.516],[4251,0.464],[4268,0.333],[4285,0.49],[4302,0.568],[4319,0.542],[4336,0.542],[4350,0.229],[4367,0.151],[4391,0.099],[4409,0.125],[4425,0.333],[4442,0.411],[4459,0.125],[4473,-0.396],[4487,-0.474],[4499,-0.37]];
const j6Ach = [[0,-0.01],[14,0.05],[31,0.18],[48,0.18],[65,0.11],[82,0.04],[103,0.065],[116,0.115],[130,0.085],[144,-0.34],[157,-0.48],[185,-0.52],[212,-0.49],[236,-0.57],[270,-0.6],[305,-0.595],[339,-0.58],[373,-0.6],[397,-0.54],[424,-0.55],[452,-0.39],[483,-0.35],[510,-0.23],[534,-0.285],[568,-0.295],[595,-0.292],[623,-0.34],[657,-0.25],[691,-0.17],[726,-0.085],[760,-0.105],[801,-0.108],[835,-0.096],[869,0.01],[897,-0.05],[931,-0.03],[965,-0.008],[1000,0.018],[1034,0.065],[1058,0.0],[1092,-0.078],[1126,-0.105],[1160,-0.085],[1188,-0.128],[1218,-0.088],[1246,0.01],[1270,-0.045],[1290,0.25],[1314,0.3],[1349,0.305],[1376,0.33],[1400,0.4],[1434,0.36],[1468,0.355],[1485,0.24],[1506,0.09],[1526,-0.3],[1537,-0.48],[1550,0.42],[1567,0.8],[1581,0.54],[1605,0.59],[1629,0.69],[1650,1.22],[1670,1.26],[1684,0.98],[1697,0.79],[1718,0.77],[1735,0.66],[1759,0.84],[1787,0.95],[1810,0.86],[1838,0.85],[1869,0.83],[1896,0.87],[1923,0.855],[1951,0.96],[1971,0.86],[1992,0.785],[2016,0.85],[2040,0.85],[2057,0.67],[2070,0.44],[2091,0.53],[2108,0.38],[2129,0.6],[2145,0.575],[2166,0.85],[2183,0.61],[2204,0.62],[2228,0.67],[2248,0.74],[2262,0.68],[2283,0.81],[2300,0.73],[2317,0.58],[2341,0.59],[2368,0.594],[2396,0.594],[2420,0.665],[2443,0.695],[2467,0.65],[2485,0.76],[2502,1.08],[2519,1.32],[2539,1.07],[2563,1.06],[2587,1.06],[2615,1.01],[2642,0.97],[2669,0.98],[2693,0.98],[2710,0.88],[2735,0.85],[2759,0.925],[2786,0.93],[2813,0.86],[2841,0.83],[2871,0.8],[2905,0.775],[2940,0.725],[2974,0.7],[3008,0.66],[3042,0.67],[3077,0.72],[3111,0.735],[3145,0.655],[3179,0.67],[3207,0.6],[3231,0.545],[3258,0.47],[3282,0.42],[3306,0.48],[3326,0.32],[3350,0.355],[3378,0.335],[3402,0.405],[3429,0.41],[3453,0.34],[3477,0.31],[3498,0.28],[3522,0.14],[3549,0.13],[3573,0.29],[3597,0.21],[3624,0.18],[3648,0.2],[3669,0.14],[3683,-0.13],[3703,-0.14],[3724,-0.25],[3737,-0.22],[3757,-0.37],[3771,-0.3],[3785,-0.55],[3799,-0.61],[3812,-0.37],[3833,-0.3],[3857,-0.2],[3874,-0.12],[3891,0.24],[3911,0.57],[3926,0.66],[3949,0.62],[3977,0.595],[4001,0.57],[4025,0.61],[4052,0.545],[4080,0.565],[4103,0.52],[4127,0.515],[4148,0.54],[4160,0.68],[4172,0.58],[4196,0.52],[4223,0.515],[4251,0.47],[4268,0.35],[4285,0.47],[4302,0.56],[4319,0.545],[4336,0.54],[4350,0.25],[4367,0.16],[4391,0.1],[4409,0.12],[4425,0.31],[4442,0.4],[4459,0.16],[4473,-0.35],[4487,-0.47],[4499,-0.39]];

const gripCmd = [[0,0],[155,1],[160,0],[162,1],[195,0],[215,1],[222,0],[242,1],[255,0],[378,1],[382,0],[1011,1],[1017,0],[1022,1],[1040,0],[1042,1],[1059,0],[1178,1],[1182,0],[1328,1],[1340,0],[1344,1],[1381,0],[1434,1],[1515,0],[1613,1],[1668,0],[1806,1],[1827,0],[1881,1],[1886,0],[1944,1],[1948,0],[1994,1],[2046,0],[2223,1],[2279,0],[2428,1],[2438,0],[2448,1],[2517,0],[3853,1],[3981,0],[4151,1],[4166,0],[4236,1],[4307,0],[4413,1],[4452,0],[4499,0]];
const gripAch = [[0,0],[156,0],[158,0.33],[167,0.45],[178,0.47],[186,1.0],[196,1.0],[198,0],[214,0],[217,0.22],[222,0],[250,0],[253,0.09],[256,0],[378,0],[380,0.2],[383,0],[1011,0],[1015,0.3],[1020,0.63],[1026,0.2],[1032,0.84],[1036,0.15],[1042,0.4],[1048,0.25],[1052,0.38],[1057,0.1],[1060,0],[1330,0],[1337,0.22],[1343,0.1],[1348,0.38],[1356,0.51],[1363,0.89],[1369,0.76],[1376,0.99],[1380,0.99],[1383,0],[1434,0],[1438,0.45],[1446,0.25],[1454,0.17],[1462,0.25],[1473,0.45],[1481,1.0],[1512,1.0],[1516,0],[1613,0],[1618,0.43],[1666,0.43],[1670,0],[1806,0],[1815,0.5],[1820,1.0],[1826,1.0],[1830,0],[1880,0],[1884,0.61],[1888,0],[1944,0],[1947,0.19],[1950,0],[1994,0],[1998,0.26],[2046,0.26],[2049,0],[2223,0],[2228,0.52],[2279,0.5],[2282,0],[2440,0],[2455,0.5],[2465,1.0],[2526,1.0],[2530,0],[3858,0],[3866,1.0],[3981,1.0],[3984,0],[4152,0],[4160,0.94],[4164,0.94],[4169,0],[4238,0],[4243,0.41],[4306,0.42],[4309,0],[4413,0],[4420,0.25],[4427,0.68],[4441,0.7],[4448,0.53],[4455,0],[4499,0]];

const cmdData = [j0Cmd,j1Cmd,j2Cmd,j3Cmd,j4Cmd,j5Cmd,j6Cmd,gripCmd];
const achData = [j0Ach,j1Ach,j2Ach,j3Ach,j4Ach,j5Ach,j6Ach,gripAch];

const FONT = 'DejaVu Sans';
const gridTops = [52,217,382,547,712,876.5,1041,1206];
const nameGaps = [45,45,45,45,45,37,45,37];
const fmtY = v => (v < 0 ? '\u2212' : '') + Math.abs(v).toFixed(1);

const grids = [], xAxes = [], yAxes = [], series = [];
for (let i = 0; i < 8; i++) {
  grids.push({left:78, width:1115, top:gridTops[i], height:143, show:true, borderColor:'#000', borderWidth:0.8, backgroundColor:'transparent'});
  xAxes.push({type:'value', gridIndex:i, min:-225, max:4724, position:'bottom',
    axisLine:{show:false, onZero:false}, splitLine:{show:false},
    axisTick:{show:true, customValues:xTicks, length:4.9, lineStyle:{color:'#000', width:0.8}},
    axisLabel:{show:i===7, customValues:xTicks, margin:9, fontSize:9.7, color:'#000', fontFamily:FONT, formatter:v=>String(v)},
    name: i===7 ? 'sim step (vertical lines = new action chunk)' : '',
    nameLocation:'middle', nameGap:26,
    nameTextStyle:{fontSize:13.9, color:'#000', fontFamily:FONT}});
  yAxes.push({type:'value', gridIndex:i, min:yRanges[i][0], max:yRanges[i][1], position:'left',
    axisLine:{show:false, onZero:false}, splitLine:{show:false},
    axisTick:{show:true, customValues:yTicks[i], length:4.9, lineStyle:{color:'#000', width:0.8}},
    axisLabel:{customValues:yTicks[i], formatter:fmtY, margin:9.5, fontSize:9.7, color:'#000', fontFamily:FONT},
    name:panelNames[i], nameLocation:'middle', nameRotate:90, nameGap:nameGaps[i],
    nameTextStyle:{fontSize:13.9, color:'#000', fontFamily:FONT}});
  series.push({type:'line', xAxisIndex:i, yAxisIndex:i, data:[], silent:true, z:1,
    markLine:{silent:true, symbol:['none','none'], animation:false, label:{show:false},
      emphasis:{disabled:true},
      lineStyle:{color:'#dedede', width:1, type:'solid'},
      data:chunkStarts.map(s => ({xAxis:s}))}});
  series.push({name:'commanded', type:'line', xAxisIndex:i, yAxisIndex:i, data:cmdData[i],
    symbol:'none', showSymbol:false, step: i===7 ? 'end' : false, z:2, animation:false,
    lineStyle:{color:'#1f77b4', width: i===7 ? 1.5 : 2.5}, itemStyle:{color:'#1f77b4'}});
  series.push({name:'achieved', type:'line', xAxisIndex:i, yAxisIndex:i, data:achData[i],
    symbol:'none', showSymbol:false, z:3, animation:false,
    lineStyle:{color:'#ff7f0e', width:1.5, type:[5.5,2.4]}, itemStyle:{color:'#ff7f0e'}});
}

const chart = echarts.init(document.getElementById('c'), null, {renderer:'canvas'});
chart.setOption({
  backgroundColor:'#fff',
  animation:false,
  textStyle:{fontFamily:FONT},
  title:{text:'FruitsOnPlateTask run0 env0 \u2014 commanded vs achieved', left:'center', top:24,
    textStyle:{fontSize:16.7, fontWeight:'normal', color:'#000', fontFamily:FONT}},
  legend:{left:83, top:166, orient:'horizontal',
    data:[
      {name:'commanded', icon:'path://M0,0 L26,0 L26,1.5 L0,1.5 Z M31,0 L31,1.5 L31,0 Z', itemStyle:{color:'#1f77b4'}},
      {name:'achieved', icon:'path://M0,0 L5.5,0 L5.5,1.5 L0,1.5 Z M7.9,0 L13.4,0 L13.4,1.5 L7.9,1.5 Z M15.8,0 L21.3,0 L21.3,1.5 L15.8,1.5 Z M23.7,0 L26,0 L26,1.5 L23.7,1.5 Z M31,0 L31,1.5 L31,0 Z', itemStyle:{color:'#ff7f0e'}}
    ],
    itemWidth:31, itemHeight:1.5, itemGap:24, padding:[5,6,5,4],
    backgroundColor:'rgba(255,255,255,0.8)', borderColor:'#cccccc', borderWidth:1, borderRadius:3,
    textStyle:{fontSize:12, color:'#000', fontFamily:FONT, lineHeight:13}},
  grid:grids, xAxis:xAxes, yAxis:yAxes, series:series
});
</script></body></html>
